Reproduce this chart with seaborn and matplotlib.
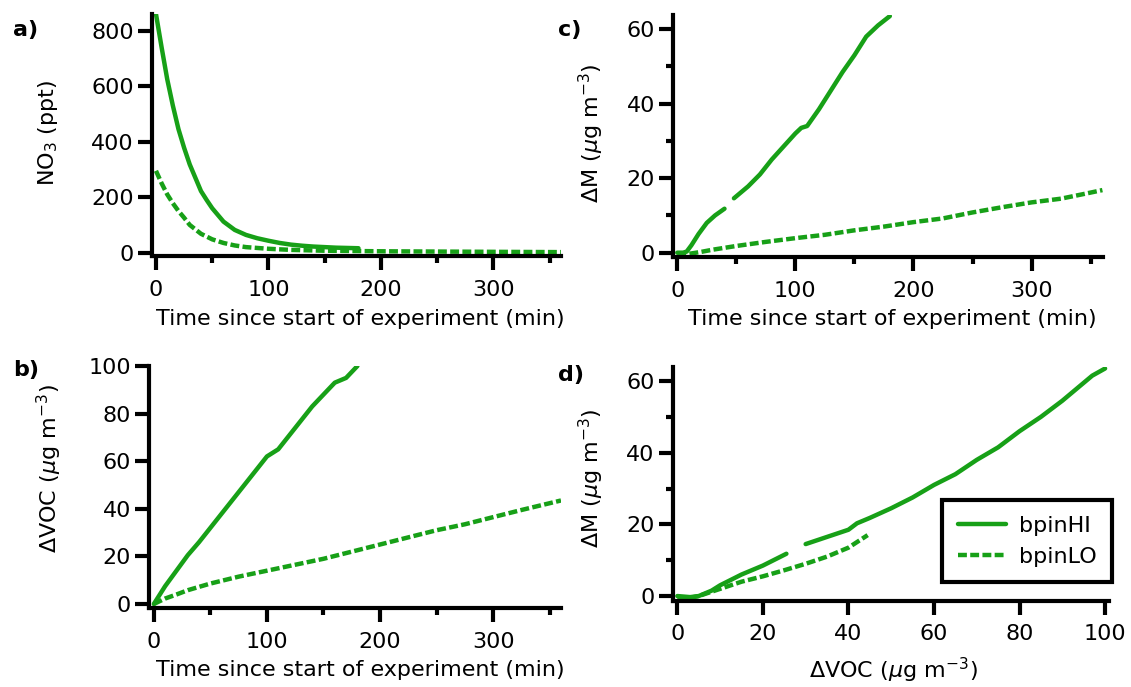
import numpy as np
import pandas as pd
import seaborn as sns
import matplotlib.pyplot as plt
from matplotlib.lines import Line2D
from matplotlib.ticker import MultipleLocator

sns.set_style("ticks")
plt.rcParams['font.family'] = ['DejaVu Sans']
plt.rcParams['mathtext.fontset'] = 'dejavusans'
for k in ('text.color', 'axes.labelcolor', 'xtick.color', 'ytick.color'):
    plt.rcParams[k] = 'black'

GREEN = "#17a017"
DASH = (0, (2.0, 0.75))

# a) NO3 vs time
a_t_hi = [0, 5, 10, 15, 20, 25, 30, 35, 40, 45, 50, 60, 70, 80, 90, 100, 110, 120, 130, 140, 150, 160, 170, 180]
a_no3_hi = [860, 740, 625, 530, 445, 378, 318, 270, 222, 190, 160, 112, 82, 64, 52, 43, 35, 29, 25, 22, 20, 18, 17, 16]
a_t_lo = [0, 5, 10, 15, 20, 25, 30, 40, 50, 60, 70, 80, 100, 120, 150, 200, 250, 300, 360]
a_no3_lo = [295, 250, 210, 178, 150, 126, 100, 68, 48, 35, 26, 20, 14, 10, 7, 5, 4, 3, 2]

# b) dVOC vs time
b_t_hi = [0, 10, 20, 30, 40, 50, 60, 70, 80, 90, 100, 110, 120, 130, 140, 150, 160, 170, 180]
b_voc_hi = [0, 7.5, 14, 20.5, 26, 32, 38, 44, 50, 56, 62, 65, 71, 77, 83, 88, 93, 95, 100]
b_t_lo = [0, 10, 20, 30, 50, 75, 100, 125, 150, 175, 200, 225, 250, 275, 300, 325, 360]
b_voc_lo = [0, 2.3, 4, 5.8, 8.6, 11.5, 14, 16.5, 19, 22, 25, 28, 31, 33.5, 36.5, 39.5, 43.5]

# c) dM vs time (HI has a gap)
c_t_hi1 = [0, 5, 8, 12, 18, 25, 32, 40]
c_m_hi1 = [0, 0, 0.3, 2, 5, 8, 10, 11.8]
c_t_hi2 = [48, 60, 70, 80, 90, 100, 105, 110, 120, 130, 140, 150, 160, 165, 170, 180]
c_m_hi2 = [14.6, 17.8, 21, 25, 28.5, 32, 33.5, 34, 38.5, 43.5, 48.5, 53, 58, 59.5, 61, 63.5]
c_t_lo = [0, 10, 20, 30, 40, 50, 75, 100, 125, 150, 175, 200, 225, 250, 275, 300, 325, 345, 360]
c_m_lo = [-0.5, -0.3, 0.2, 0.8, 1.3, 1.8, 2.9, 3.9, 4.8, 6.0, 7.0, 8.2, 9.2, 10.8, 12.2, 13.5, 14.5, 15.8, 16.8]

# d) dM vs dVOC
d_voc_hi1 = [0, 3, 5, 8, 10, 15, 20, 25.5]
d_m_hi1 = [0, -0.3, 0, 1.5, 3, 6, 8.5, 11.8]
d_voc_hi2 = [30, 35, 40, 42, 45, 50, 55, 60, 65, 70, 75, 80, 85, 90, 95, 97, 100]
d_m_hi2 = [14.5, 16.5, 18.5, 20.3, 21.8, 24.5, 27.5, 31, 34, 38, 41.5, 46, 50, 54.5, 59.5, 61.5, 63.5]
d_voc_lo = [0, 3, 5, 10, 15, 20, 25, 30, 35, 40, 44.5]
d_m_lo = [-0.5, -0.5, 0, 2, 4, 5.5, 7.2, 9, 11, 13.5, 17]

W, H = 1131, 687
fig = plt.figure(figsize=(W / 100, H / 100), dpi=100)


def rect(l, r, t, b):
    return [l / W, 1 - b / H, (r - l) / W, (b - t) / H]


ax_a = fig.add_axes(rect(151.7, 561, 14, 256))
ax_b = fig.add_axes(rect(149.3, 561, 366, 608.3))
ax_c = fig.add_axes(rect(673, 1103, 15, 257.3))
ax_d = fig.add_axes(rect(672.7, 1108.5, 366.7, 600.7))


def draw(ax, x, y, dashed=False):
    ls = DASH if dashed else '-'
    sns.lineplot(x=x, y=y, ax=ax, color=GREEN, lw=3.2, linestyle=ls,
                 sort=False, estimator=None)


draw(ax_a, a_t_hi, a_no3_hi)
draw(ax_a, a_t_lo, a_no3_lo, True)
draw(ax_b, b_t_hi, b_voc_hi)
draw(ax_b, b_t_lo, b_voc_lo, True)
draw(ax_c, c_t_hi1, c_m_hi1)
draw(ax_c, c_t_hi2, c_m_hi2)
draw(ax_c, c_t_lo, c_m_lo, True)
draw(ax_d, d_voc_hi1, d_m_hi1)
draw(ax_d, d_voc_hi2, d_m_hi2)
draw(ax_d, d_voc_lo, d_m_lo, True)

ax_a.set_xlim(-3.8, 360); ax_a.set_ylim(-12, 860)
ax_b.set_xlim(-4, 360); ax_b.set_ylim(-1.8, 100)
ax_c.set_xlim(-3.6, 360.5); ax_c.set_ylim(-1.24, 63.8)
ax_d.set_xlim(-1.08, 100.8); ax_d.set_ylim(-1.3, 64)

ax_a.xaxis.set_major_locator(MultipleLocator(100)); ax_a.xaxis.set_minor_locator(MultipleLocator(50))
ax_a.yaxis.set_major_locator(MultipleLocator(200))
ax_b.xaxis.set_major_locator(MultipleLocator(100)); ax_b.xaxis.set_minor_locator(MultipleLocator(50))
ax_b.yaxis.set_major_locator(MultipleLocator(20))
ax_c.xaxis.set_major_locator(MultipleLocator(100)); ax_c.xaxis.set_minor_locator(MultipleLocator(50))
ax_c.yaxis.set_major_locator(MultipleLocator(20)); ax_c.yaxis.set_minor_locator(MultipleLocator(10))
ax_d.xaxis.set_major_locator(MultipleLocator(20))
ax_d.yaxis.set_major_locator(MultipleLocator(20)); ax_d.yaxis.set_minor_locator(MultipleLocator(10))

FS = 16
for ax in (ax_a, ax_b, ax_c, ax_d):
    sns.despine(ax=ax)
    for s in ("left", "bottom"):
        ax.spines[s].set_linewidth(3)
        ax.spines[s].set_color("black")
    ax.tick_params(which="major", length=10, width=3, labelsize=FS, color="black", labelcolor="black")
    ax.tick_params(which="minor", length=5, width=3, color="black")
    ax.tick_params(axis="x", which="major", pad=7)
    ax.tick_params(axis="y", which="major", pad=3)
    ax.set_facecolor("white")

xl = "Time since start of experiment (min)"
ax_a.set_xlabel(xl, fontsize=FS)
ax_b.set_xlabel(xl, fontsize=FS)
ax_c.set_xlabel(xl, fontsize=FS)
ax_d.set_xlabel(r"$\Delta$VOC ($\mu$g m$^{-3}$)", fontsize=FS)
ax_a.set_ylabel(r"NO$_3$ (ppt)", fontsize=FS)
ax_b.set_ylabel(r"$\Delta$VOC ($\mu$g m$^{-3}$)", fontsize=FS)
ax_c.set_ylabel(r"$\Delta$M ($\mu$g m$^{-3}$)", fontsize=FS)
ax_d.set_ylabel(r"$\Delta$M ($\mu$g m$^{-3}$)", fontsize=FS)

tf = fig.transFigure
ax_a.yaxis.set_label_coords(60 / W, 1 - 133 / H, transform=tf)
ax_b.yaxis.set_label_coords(64 / W, 1 - 469 / H, transform=tf)
ax_c.yaxis.set_label_coords(606 / W, 1 - 133 / H, transform=tf)
ax_d.yaxis.set_label_coords(606 / W, 1 - 478 / H, transform=tf)
ax_a.xaxis.set_label_coords(360 / W, 1 - 309 / H, transform=tf)
ax_b.xaxis.set_label_coords(360 / W, 1 - 660 / H, transform=tf)
ax_c.xaxis.set_label_coords(892 / W, 1 - 309 / H, transform=tf)
ax_d.xaxis.set_label_coords(893 / W, 1 - 656 / H, transform=tf)

for lab, x, y in (("a)", 13, 30), ("b)", 13, 370), ("c)", 558, 30), ("d)", 558, 375)):
    fig.text(x / W, 1 - y / H, lab, fontsize=FS, fontweight="bold", va="center", ha="left")

handles = [Line2D([], [], color=GREEN, lw=3.2, linestyle='-'),
           Line2D([], [], color=GREEN, lw=3.2, linestyle=DASH)]
leg = ax_d.legend(handles, ["bpinHI", "bpinLO"], loc="upper left",
                  bbox_to_anchor=(942 / W, 1 - 500 / H), bbox_transform=tf,
                  borderaxespad=0, fontsize=FS, handlelength=2.2, handletextpad=0.55,
                  labelspacing=0.5, borderpad=0.7, fancybox=False, framealpha=1)
leg.get_frame().set_edgecolor("black")
leg.get_frame().set_linewidth(3)

fig.savefig("out.png", dpi=100, facecolor="white")
